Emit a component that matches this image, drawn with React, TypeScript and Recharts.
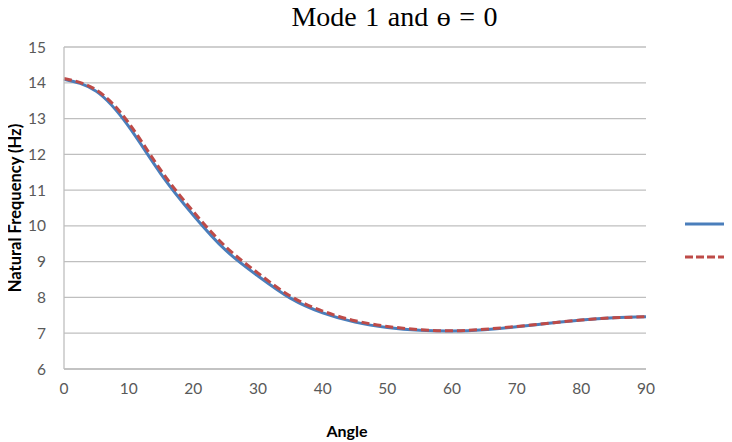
import React from 'react';
import { LineChart, Line, XAxis, YAxis, CartesianGrid, Label } from 'recharts';

const angles = [0, 5, 10, 15, 20, 25, 30, 35, 40, 45, 50, 55, 60, 65, 70, 75, 80, 85, 90];
const seriesSolid = [14.1, 13.76, 12.78, 11.45, 10.3, 9.32, 8.6, 7.98, 7.57, 7.31, 7.16, 7.08, 7.06, 7.1, 7.18, 7.28, 7.37, 7.43, 7.46];
const seriesDashed = [14.12, 13.8, 12.88, 11.55, 10.4, 9.42, 8.68, 8.04, 7.62, 7.35, 7.19, 7.1, 7.07, 7.11, 7.19, 7.28, 7.37, 7.43, 7.46];
const xTicks = [0, 10, 20, 30, 40, 50, 60, 70, 80, 90];
const yTicks = [6, 7, 8, 9, 10, 11, 12, 13, 14, 15];

const titleText = 'Mode 1 and ɵ = 0';
const xTitle = 'Angle';
const yTitle = 'Natural Frequency (Hz)';

const data = angles.map((a, i) => ({ angle: a, solid: seriesSolid[i], dashed: seriesDashed[i] }));

const BLUE = '#4A7EBB';
const RED = '#BE4B48';
const GRID = '#BFBFBF';
const TICK = '#595959';
const SANS = 'Lato, "Open Sans", sans-serif';

export default function App() {
  return (
    <div style={{ position: 'relative', width: 732, height: 442, margin: '-8px 0 0 -8px', background: '#fff', overflow: 'hidden' }}>
      <LineChart width={732} height={442} data={data} margin={{ top: 47, right: 86, left: 0, bottom: 0 }}>
        <CartesianGrid horizontal vertical={false} stroke={GRID} strokeWidth={1.3} />
        <XAxis
          dataKey="angle"
          type="number"
          domain={[0, 90]}
          ticks={xTicks}
          height={73}
          stroke={GRID}
          strokeWidth={1.3}
          tickLine={false}
          tickSize={0}
          tickMargin={14}
          tick={{ fill: TICK, fontSize: 15.5, fontFamily: SANS }}
        >
          <Label
            content={({ viewBox }: any) => (
              <text
                x={viewBox.x + viewBox.width / 2 - 8}
                y={viewBox.y + 68}
                textAnchor="middle"
                fontFamily={SANS}
                fontWeight="bold"
                fontSize={16}
                fill="#000"
              >
                {xTitle}
              </text>
            )}
          />
        </XAxis>
        <YAxis
          type="number"
          domain={[6, 15]}
          ticks={yTicks}
          width={64}
          stroke={GRID}
          strokeWidth={1.3}
          tickLine={false}
          tickSize={0}
          tickMargin={18}
          interval={0}
          tick={{ fill: TICK, fontSize: 15.5, fontFamily: SANS }}
        >
          <Label
            content={({ viewBox }: any) => {
              const cx = viewBox.x + 15;
              const cy = viewBox.y + viewBox.height / 2;
              return (
                <text
                  x={cx}
                  y={cy}
                  transform={`rotate(-90 ${cx} ${cy})`}
                  textAnchor="middle"
                  dominantBaseline="central"
                  fontFamily={SANS}
                  fontWeight="bold"
                  fontSize={16.5}
                  fill="#000"
                >
                  {yTitle}
                </text>
              );
            }}
          />
        </YAxis>
        <Line
          type="natural"
          dataKey="solid"
          stroke={BLUE}
          strokeWidth={3}
          dot={false}
          activeDot={false}
          isAnimationActive={false}
        />
        <Line
          type="natural"
          dataKey="dashed"
          stroke={RED}
          strokeWidth={3}
          strokeDasharray="8 4"
          dot={false}
          activeDot={false}
          isAnimationActive={false}
        />
      </LineChart>
      <div style={{ position: 'absolute', left: 682, top: 215, width: 50, height: 50 }}>
        <svg width={50} height={50} style={{ display: 'block' }}>
          <line x1={3} y1={9} x2={50} y2={9} stroke={BLUE} strokeWidth={3} />
          <line x1={3} y1={42} x2={50} y2={42} stroke={RED} strokeWidth={3} strokeDasharray="8 3" />
        </svg>
      </div>
      <div
        style={{
          position: 'absolute',
          left: 0,
          width: 789,
          top: 3,
          textAlign: 'center',
          fontFamily: '"Liberation Serif", "Times New Roman", serif',
          fontSize: 28,
          lineHeight: '28px',
          wordSpacing: 1.5,
          color: '#000',
          whiteSpace: 'nowrap',
          zIndex: 2,
        }}
      >
        {titleText}
      </div>
    </div>
  );
}
